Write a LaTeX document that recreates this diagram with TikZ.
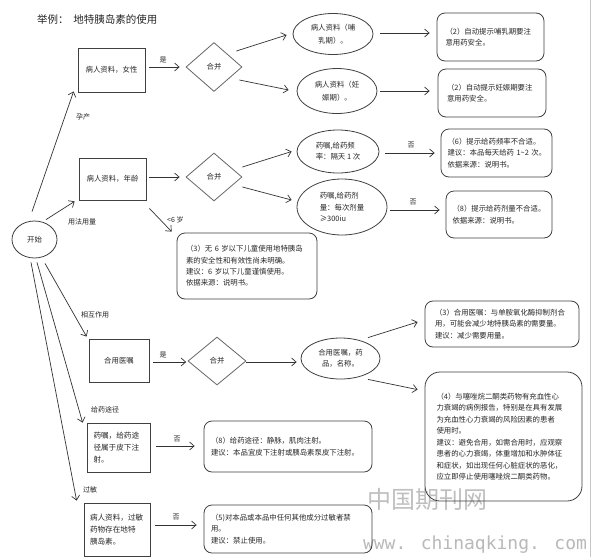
\documentclass[tikz,border=0pt]{standalone}
\usepackage{fontspec}
\setmainfont{Noto Sans CJK SC}
\newfontfamily\wmmono{DejaVu Sans Mono}
\usetikzlibrary{shapes.geometric,arrows.meta,calc}
\begin{document}
\begin{tikzpicture}[x=1pt,y=-1pt,
  every node/.style={font=\fontsize{7.4}{11.3}\selectfont, text=black!85, inner sep=0pt},
  sq/.style={draw=black!75, line width=0.8pt, rectangle, align=center},
  sqt/.style={draw=black!75, line width=0.8pt, rectangle, align=left},
  rbox/.style={draw=black!75, line width=0.8pt, rounded corners=8pt, align=left},
  ell/.style={draw=black!75, line width=0.8pt, ellipse, align=center},
  ellt/.style={draw=black!75, line width=0.8pt, ellipse, align=left},
  dia/.style={draw=black!60, line width=0.8pt, diamond, minimum width=56pt, minimum height=49pt},
  arr/.style={draw=black!80, line width=0.7pt, -{Straight Barb[length=4.5pt,width=8pt]}},
  lab/.style={font=\fontsize{7}{8}\selectfont},
]
\useasboundingbox (0,0) rectangle (593,557);
\fill[white] (0,0) rectangle (593,557);
\draw[gray!45, line width=0.8pt] (590.5,0) -- (590.5,557);

% watermark
\node[font=\fontsize{24}{26}\selectfont, text=gray!50] (wm1) at (427,499) {中国期刊网};
\node[font=\wmmono\fontsize{18}{20}\selectfont, text=gray!55] (wm2) at (475,545) {www. chinaqking. com};

% title
\node[anchor=west, font=\fontsize{10.5}{12}\selectfont] (title) at (37,20) {举例：\ \ 地特胰岛素的使用};

% row 1
\node[sq, minimum width=67pt, minimum height=44pt] (box1) at (111.5,70) {病人资料，女性};
\node[dia] (d1) at (214,67) {合并};
\node[ell, minimum width=80pt, minimum height=41pt] (e1) at (333,34) {病人资料（哺\\[1.5pt]乳期）。};
\node[ell, minimum width=80pt, minimum height=45pt] (e2) at (337,91) {病人资料（妊\\[1.5pt]娠期）。};
\node[rbox, minimum width=107pt, minimum height=48pt, text width=90pt] (b2a) at (490.5,37) {（2）自动提示哺乳期要注\\意用药安全。};
\node[rbox, minimum width=108pt, minimum height=48pt, text width=90pt] (b2b) at (492,93) {（2）自动提示妊娠期要注\\意用药安全。};

% start
\node[ell, minimum width=45pt, minimum height=37pt] (start) at (34.5,239.5) {开始};

% row 2
\node[sq, minimum width=67pt, minimum height=42pt] (box2) at (112.5,179) {病人资料，年龄};
\node[dia, minimum height=48pt] (d2) at (214,177) {合并};
\node[ellt, minimum width=82pt, minimum height=43pt] (e3) at (338,151.5) {药嘱,给药频\\率：隔天 1 次};
\node[ellt, minimum width=90pt, minimum height=56pt] (e4) at (342,207) {药嘱,给药剂\\量：每次剂量\\≥300iu};
\node[rbox, minimum width=111pt, minimum height=48pt, text width=98pt] (b6) at (496.5,153) {（6）提示给药频率不合适。\\\mbox{建议：本品每天给药 1\textasciitilde2 次。}\\依据来源：说明书。};
\node[rbox, minimum width=106pt, minimum height=47pt, text width=93pt] (b8a) at (499,214.5) {（8）提示给药剂量不合适。\\依据来源：说明书。};
\node[rbox, minimum width=140pt, minimum height=66pt, text width=122pt] (b3) at (247,266) {（3）无 6 岁以下儿童使用地特胰岛\\素的安全性和有效性尚未明确。\\建议：6 岁以下儿童谨慎使用。\\依据来源：说明书。};

% row 3
\node[sq, minimum width=60pt, minimum height=43pt] (box3) at (119,360.5) {合用医嘱};
\node[dia, minimum width=58pt, minimum height=48pt] (d3) at (217,361) {合并};
\node[ell, minimum width=79pt, minimum height=41pt] (e5) at (340.5,358.5) {合用医嘱，药\\品，名称。};
\node[rbox, minimum width=154pt, minimum height=46pt, text width=134pt] (b3b) at (502,324) {（3）合用医嘱：与单胺氧化酶抑制剂合\\用，可能会减少地特胰岛素的需要量。\\建议：减少需要用量。};
\node[rbox, rounded corners=15pt, minimum width=157pt, minimum height=129pt, text width=134pt, font=\fontsize{7.4}{11.5}\selectfont] (b4) at (503.5,436.5) {（4）与噻唑烷二酮类药物有充血性心\\力衰竭的病例报告，特别是在具有发展\\为充血性心力衰竭的风险因素的患者\\使用时。\\建议：避免合用，如需合用时，应观察\\患者的心力衰竭，体重增加和水肿体征\\和症状，如出现任何心脏症状的恶化，\\应立即停止使用噻唑烷二酮类药物。};

% row 4
\node[sqt, minimum width=63pt, minimum height=49pt, text width=50pt, font=\fontsize{7.6}{12}\selectfont] (box4) at (118.5,447.5) {药嘱，给药途\\径属于皮下注\\射。};
\node[rbox, minimum width=168pt, minimum height=51pt, text width=154pt] (b8b) at (288,446.5) {（8）给药途径：静脉，肌肉注射。\\建议：本品宜皮下注射或胰岛素泵皮下注射。};

% row 5
\node[sqt, minimum width=66pt, minimum height=53pt, text width=54pt, font=\fontsize{7.6}{11.6}\selectfont] (box5) at (117,529.5) {病人资料，过敏\\药物存在地特\\胰岛素。};
\node[rbox, minimum width=168pt, minimum height=48pt, text width=154pt] (b5) at (288,529) {（5)对本品或本品中任何其他成分过敏者禁\\用。\\建议：禁止使用。};

% connectors row 1
\draw[arr, shorten <=4pt, shorten >=6pt] (d1.west -| box1.east) -- (d1.west);
\node[lab] (l1) at (163,60) {是};
\draw[arr] ($(d1.east)+(-6,-16)$) -- ($(e1.west)+(-6,1)$);
\draw[arr] ($(d1.east)+(-3,13)$) -- ($(e2.west)+(-8,-1)$);
\draw[arr, shorten <=7pt, shorten >=7pt] ($(e1.east)+(0,-1)$) -- ($(e1.east -| b2a.west)+(0,-1)$);
\draw[arr, shorten <=3pt, shorten >=8pt] (e2.east) -- (e2.east -| b2b.west);

% start connectors
\draw[arr] ($(start.north)+(-2.5,-9)$) -- ($(box1.south west)+(-4,-1)$);
\node[lab] (l2) at (83,117) {孕产};
\draw[arr] ($(start.north)+(11.5,-1)$) -- ($(box2.south west)+(-4,1)$);
\node[lab] (l3) at (82,222) {用法用量};
\draw[arr] ($(start.south)+(10.5,5)$) -- ($(box3.north west)+(-2,-2)$);
\node[lab] (l4) at (95,315) {相互作用};
\draw[arr] ($(start.south)+(2.5,4)$) -- ($(box4.north west)+(-4,0)$);
\node[lab] (l5) at (105,410) {给药途径};
\draw[arr] ($(start.south)+(-3.5,4)$) -- ($(box5.north west)+(-7,-2)$);
\node[lab] (l6) at (90,490) {过敏};

% row 2 connectors
\draw[arr, shorten <=3pt, shorten >=6pt] (d2.west -| box2.east) -- (d2.west);
\draw[arr] ($(d2.east)+(0,-10)$) -- ($(e3.west)+(-5,0)$);
\draw[arr] ($(d2.east)+(0,10)$) -- ($(e4.west)+(-5,-7)$);
\draw[arr, shorten <=6pt, shorten >=6pt] ($(e3.east)+(0,1.5)$) -- ($(e3.east -| b6.west)+(0,1.5)$);
\node[lab] (l7) at (411,145) {否};
\draw[arr, shorten <=3pt, shorten >=6pt] ($(e4.east)+(0,3)$) -- ($(e4.east -| b8a.west)+(0,3)$);
\node[lab] (l8) at (413,202) {否};
\draw[arr] ($(box2.south east)+(3,8)$) -- ($(b3.north west)+(-5,-1)$);
\node[lab, anchor=west] (l9) at (167,220) {<6 岁};

% row 3 connectors
\draw[arr, shorten <=4pt, shorten >=1.5pt] ($(box3.east)+(0,1.5)$) -- ($(d3.west)+(0,1)$);
\node[lab] (l10) at (163,355) {是};
\draw[arr, shorten >=4pt] ($(d3.east)+(0,1)$) -- ($(d3.east -| e5.west)+(0,1)$);
\draw[arr] ($(e5.north)+(27.5,0)$) -- ($(b3b.west)+(-7,-2)$);
\draw[arr] ($(e5.south)+(27.5,0)$) -- ($(b4.north west)+(-7,18)$);

% row 4, 5 connectors
\draw[arr, shorten <=6pt, shorten >=9pt] ($(box4.east)+(0,-1.5)$) -- ($(box4.east -| b8b.west)+(0,-1.5)$);
\node[lab] (l11) at (177,439) {否};
\draw[arr] ($(box5.east)+(5,-4.5)$) -- ($(b5.west)+(-7,-4)$);
\node[lab] (l12) at (176,517) {否};
\end{tikzpicture}
\end{document}
